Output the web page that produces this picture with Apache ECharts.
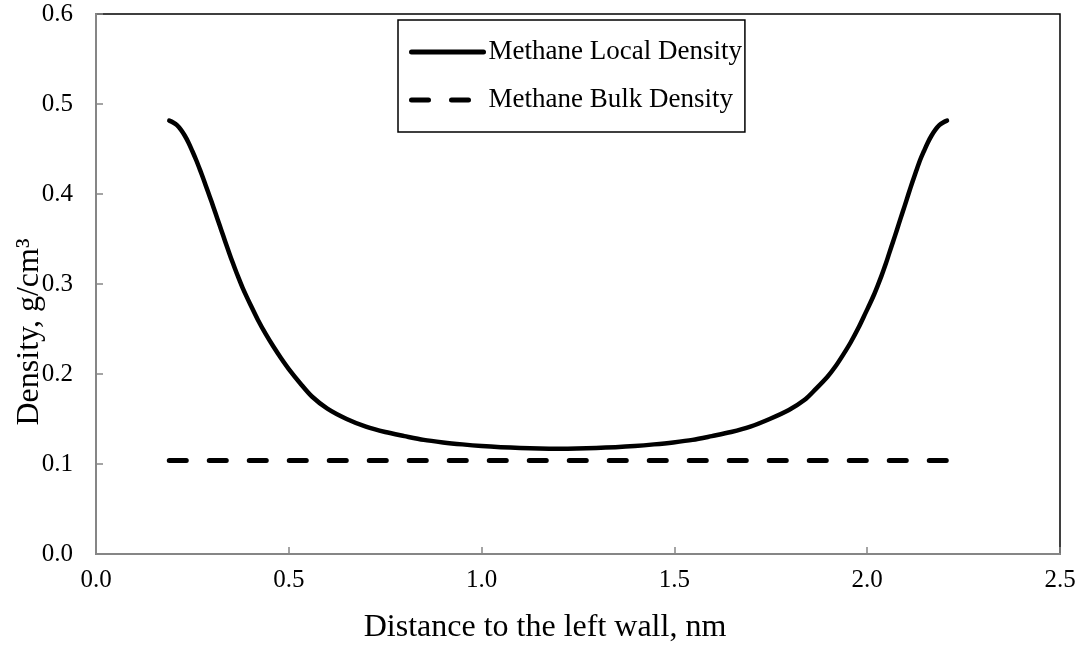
<!DOCTYPE html>
<html>
<head>
<meta charset="utf-8">
<script src="https://cdn.jsdelivr.net/npm/echarts@6/dist/echarts.min.js"></script>
<style>
html,body{margin:0;padding:0;background:#fff;}
#chart{width:1081px;height:648px;}
</style>
</head>
<body>
<div id="chart"></div>
<script>
// Distance to the left wall (nm) and methane local density (g/cm3)
const localX = [0.19,0.20,0.21,0.22,0.23,0.24,0.25,0.26,0.27,0.28,0.29,0.30,0.31,0.32,0.33,0.34,0.35,0.36,0.37,0.38,0.39,0.40,0.42,0.44,0.46,0.48,0.50,0.53,0.56,0.60,0.65,0.70,0.75,0.80,0.85,0.90,0.95,1.00,1.05,1.10,1.15,1.20,1.247,1.297,1.347,1.397,1.447,1.497,1.547,1.597,1.647,1.697,1.747,1.797,1.837,1.867,1.897,1.917,1.937,1.957,1.977,1.997,2.007,2.017,2.027,2.037,2.047,2.057,2.067,2.077,2.087,2.097,2.107,2.117,2.127,2.137,2.147,2.157,2.167,2.177,2.187,2.197,2.207];
const localY = [0.4815,0.4795,0.4765,0.4715,0.465,0.457,0.4475,0.4375,0.4265,0.415,0.403,0.391,0.3785,0.366,0.3535,0.341,0.329,0.3175,0.3065,0.296,0.2865,0.2775,0.260,0.2445,0.2305,0.2175,0.2055,0.1895,0.175,0.1615,0.150,0.1415,0.1355,0.131,0.1268,0.124,0.1218,0.120,0.1187,0.1178,0.1172,0.117,0.1172,0.1178,0.1187,0.120,0.1218,0.124,0.1268,0.131,0.1355,0.1415,0.150,0.160,0.171,0.1835,0.197,0.208,0.221,0.235,0.251,0.269,0.278,0.2875,0.298,0.309,0.321,0.334,0.347,0.360,0.3735,0.3865,0.400,0.413,0.4255,0.4375,0.4475,0.457,0.465,0.4715,0.4765,0.4795,0.4815];
// Methane bulk density
const bulkX = [0.19, 2.207];
const bulkY = [0.104, 0.104];
const seriesNames = ['Methane Local Density', 'Methane Bulk Density'];
const xTicks = [0, 0.5, 1.0, 1.5, 2.0, 2.5];
const yTicks = [0, 0.1, 0.2, 0.3, 0.4, 0.5, 0.6];

const FONT = '"Liberation Serif", "Times New Roman", serif';
const zip = (xs, ys) => xs.map((x, i) => [x, ys[i]]);

const chart = echarts.init(document.getElementById('chart'), null, {renderer: 'canvas'});
chart.setOption({
  animation: false,
  backgroundColor: '#fff',
  grid: {
    left: 96, right: 21, top: 14, bottom: 94,
    containLabel: false, outerBoundsMode: 'none',
    show: true, borderColor: '#000', borderWidth: 1.5, backgroundColor: 'transparent'
  },
  legend: {
    data: seriesNames,
    orient: 'vertical',
    left: 398, top: 20,
    padding: [18, 3, 18, 11],
    itemWidth: 72, itemHeight: 14, itemGap: 20,
    borderColor: '#000', borderWidth: 1.5, backgroundColor: '#fff',
    itemStyle: {opacity: 0},
    lineStyle: {width: 5, cap: 'round'},
    textStyle: {fontFamily: FONT, fontSize: 27, color: '#000', lineHeight: 28}
  },
  xAxis: {
    type: 'value',
    min: xTicks[0], max: xTicks[xTicks.length - 1], interval: 0.5,
    name: 'Distance to the left wall, nm',
    nameLocation: 'middle', nameGap: 58, nameMoveOverlap: false,
    nameTextStyle: {fontFamily: FONT, fontSize: 32, color: '#000', padding: [0, 66, 0, 0]},
    axisLine: {show: true, onZero: false, lineStyle: {color: '#868686', width: 2}},
    axisTick: {show: true, inside: true, length: 7, lineStyle: {color: '#868686', width: 1.5}},
    axisLabel: {fontFamily: FONT, fontSize: 25, color: '#000', margin: 14,
      formatter: v => v.toFixed(1)},
    splitLine: {show: false}
  },
  yAxis: {
    type: 'value',
    min: yTicks[0], max: yTicks[yTicks.length - 1], interval: 0.1,
    name: 'Density, g/cm³',
    nameLocation: 'middle', nameGap: 50, nameRotate: 90, nameMoveOverlap: false,
    nameTextStyle: {fontFamily: FONT, fontSize: 32, color: '#000', padding: [0, 96, 0, 0]},
    axisLine: {show: true, onZero: false, lineStyle: {color: '#868686', width: 2}},
    axisTick: {show: true, inside: true, length: 7, lineStyle: {color: '#868686', width: 1.5}},
    axisLabel: {fontFamily: FONT, fontSize: 25, color: '#000', margin: 23,
      formatter: v => v.toFixed(1)},
    splitLine: {show: false}
  },
  series: [
    {
      name: seriesNames[0], type: 'line', data: zip(localX, localY),
      symbol: 'none', smooth: 0.3, color: '#000',
      lineStyle: {color: '#000', width: 4.5, cap: 'round', join: 'round'}
    },
    {
      name: seriesNames[1], type: 'line', data: zip(bulkX, bulkY),
      symbol: 'none', color: '#000',
      lineStyle: {color: '#000', width: 5, type: [17, 23], cap: 'round'}
    }
  ]
});
</script>
</body>
</html>
